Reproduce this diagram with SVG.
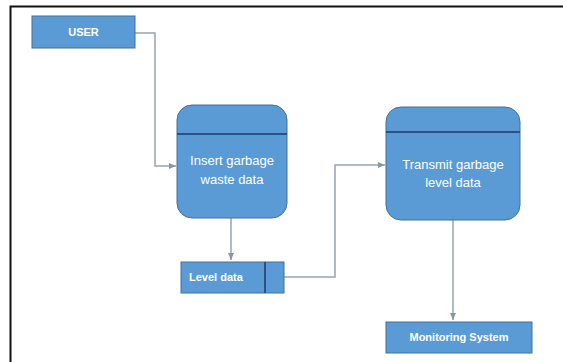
<svg xmlns="http://www.w3.org/2000/svg" width="563" height="362" viewBox="0 0 563 362">
<defs>
<style>
.box{fill:#5b9bd5;stroke:#41719c;stroke-width:1}
.div{stroke:#1f3864;stroke-width:1.5;fill:none}
.con{stroke:#9aa3ad;stroke-width:1.5;fill:none}
.t{font-family:"Liberation Sans",Arial,sans-serif;fill:#ffffff;font-size:13px}
.b{font-weight:bold;font-size:11px}
</style>
<marker id="arr" markerWidth="8" markerHeight="8" refX="7" refY="4" orient="auto" markerUnits="userSpaceOnUse">
<path d="M0,1 L7,4 L0,7 Z" fill="#8a96a3"/>
</marker>
</defs>
<rect x="0" y="0" width="563" height="362" fill="#ffffff"/>
<path d="M10.5,362 L10.5,6.5 L563,6.5" fill="none" stroke="#111111" stroke-width="2"/>
<g id="connectors">
<path class="con" d="M135,33 L155,33 L155,166 L176,166" marker-end="url(#arr)"/>
<path class="con" d="M231,218 L231,260" marker-end="url(#arr)"/>
<path class="con" d="M284,277 L335,277 L335,165 L385,165" marker-end="url(#arr)"/>
<path class="con" d="M453,220 L453,320" marker-end="url(#arr)"/>
</g>
<g id="user">
<rect class="box" x="32" y="16" width="103" height="32"/>
<text class="t b" x="83.5" y="36" text-anchor="middle">USER</text>
</g>
<g id="insert">
<rect class="box" x="177" y="105" width="110" height="113" rx="15"/>
<line class="div" x1="177" y1="134" x2="287" y2="134"/>
<text class="t" x="232" y="165" text-anchor="middle">Insert garbage</text>
<text class="t" x="232" y="184" text-anchor="middle">waste data</text>
</g>
<g id="level">
<rect class="box" x="181" y="262" width="103" height="31"/>
<line class="div" x1="265" y1="262" x2="265" y2="293"/>
<text class="t b" x="189" y="281">Level data</text>
</g>
<g id="transmit">
<rect class="box" x="386" y="107" width="134" height="113" rx="15"/>
<line class="div" x1="386" y1="132" x2="520" y2="132"/>
<text class="t" x="453" y="169" text-anchor="middle">Transmit garbage</text>
<text class="t" x="453" y="187" text-anchor="middle">level data</text>
</g>
<g id="monitoring">
<rect class="box" x="386" y="322" width="146" height="31"/>
<text class="t b" x="459" y="341" text-anchor="middle">Monitoring System</text>
</g>
</svg>
